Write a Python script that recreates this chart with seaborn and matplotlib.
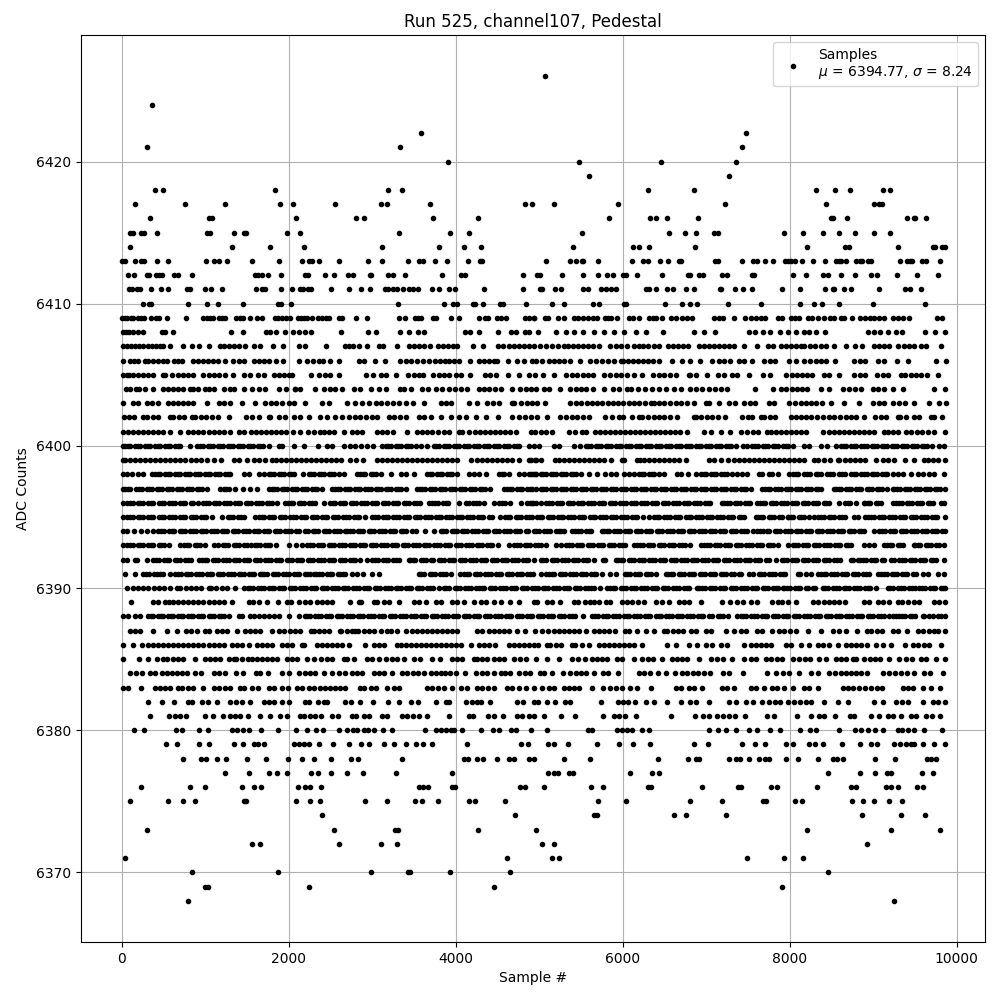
import matplotlib
matplotlib.use('Agg')
import matplotlib.pyplot as plt
import pandas as pd
import seaborn as sns

# sample numbers, one list per ADC count
s6368 = [800, 9254]
s6369 = [992, 1028, 2240, 4460, 7910]
s6370 = [848, 1868, 2984, 3428, 3452, 3932, 4652, 8462]
s6371 = [44, 4616, 5150, 5234, 7490, 7934, 8162]
s6372 = [1556, 1652, 2600, 3104, 3296, 5030, 5174, 8930]
s6373 = [308, 2540, 3272, 3308, 4268, 4958, 8210, 9218, 9806]
s6374 = [2396, 4712, 5654, 5690, 6614, 6758, 7238, 8870, 9338, 9626]
s6375 = [104, 560, 740, 884, 1460, 1492, 2084, 2252, 2372, 2912, 3176, 3512, 3596, 3788, 4160, 4232, 4592,
         5702, 6038, 6806, 7190, 7682, 7718, 8066, 8150, 8750, 8882, 9014, 9194, 9350]
s6376 = [236, 824, 992, 1436, 1580, 1664, 2108, 2200, 2252, 2384, 3560, 3608, 3668, 3956, 3992, 4772, 4832,
         5054, 5618, 5762, 6302, 6334, 6950, 7382, 7418, 7778, 7850, 8330, 8738, 8798, 9158, 9214, 9294, 9530, 9602]
s6377 = [1232, 1520, 1760, 1856, 1976, 2272, 2348, 2504, 2696, 2888, 3284, 3956,
         5102, 5174, 5222, 5354, 5402, 6086, 6350, 6434, 8462, 8846, 9026, 9166, 9214, 9590, 9722]
s6378 = [740, 948, 1008, 1136, 1244, 1496, 1724, 1988, 2156, 2300, 2504, 2744, 2828, 3356, 4100, 4148, 4260, 4328,
         4500, 4640, 4700, 4880, 4940, 5294, 5606, 6422, 6782, 6878, 6914, 7274, 7354, 7406, 7514, 7634, 7700, 7754,
         7958, 8102, 8342, 8514, 8570, 8634, 9022, 9266, 9650, 9694, 9754]
s6379 = [536, 668, 932, 1040, 1340, 1448, 1580, 1628, 1700, 2060, 2120, 2180, 2240, 2360, 2532, 2720, 2868, 2960,
         3140, 3260, 3404, 3524, 3612, 3720, 4136, 4784, 4868, 5102, 5174, 5342, 5690, 5954, 6122, 6326, 6854, 7022,
         7430, 7586, 7706, 7958, 8042, 8234, 8300, 8394, 8626, 8846, 8978, 9050, 9254, 9320, 9390, 9454, 9494, 9594,
         9734, 9854]
s6380 = [152, 272, 656, 728, 932, 1028, 1320, 1380, 1448, 1520, 1664, 1872, 2084, 2216, 2332, 2412, 2600, 2700,
         2768, 2820, 2900, 2948, 3020, 3128, 3236, 3632, 3764, 3820, 3880, 3940, 3980, 4076, 4304, 4448, 4520, 4660,
         4720, 4908, 5094, 5582, 5634, 5926, 5990, 6046, 6110, 6230, 6314, 7034, 7142, 7234, 7358, 7514, 7614, 7766,
         7882, 8126, 8246, 8314, 8594, 8786, 8858, 8942, 9026, 9122, 9294, 9342, 9414, 9494, 9610, 9822]
s6381 = [344, 572, 640, 700, 772, 992, 1088, 1208, 1292, 1360, 1420, 1508, 1660, 1772, 1892, 1980, 2140, 2188, 2252,
         2320, 2388, 2520, 2592, 2760, 2812, 2908, 2960, 3120, 3180, 3360, 3420, 3490, 3560, 3660, 3920, 4160, 4212,
         4388, 4460, 4572, 4740, 4800, 4880, 4940, 5054, 5262, 5434, 5762, 5894, 5954, 6026, 6158, 6578, 6862, 6966,
         7034, 7134, 7200, 7274, 7346, 7466, 7726, 7814, 8090, 8258, 8354, 8414, 8546, 8726, 8774, 8978, 9074, 9174,
         9234, 9334, 9454, 9514, 9634, 9700, 9806]
s6382 = [320, 488, 632, 800, 840, 968, 1028, 1140, 1300, 1370, 1440, 1540, 1700, 1760, 1820, 1920, 2000, 2200, 2240,
         2348, 2420, 2460, 2680, 2750, 2860, 3008, 3192, 3320, 3460, 3548, 3760, 3880, 3920, 4120, 4200, 4260, 4308,
         4412, 4740, 4812, 4942, 4990, 5094, 5194, 5314, 5366, 5746, 5942, 6000, 6060, 6142, 6274, 6374, 6526, 6694,
         6806, 6880, 7034, 7274, 7354, 7474, 7566, 7674, 7754, 7820, 7880, 7974, 8054, 8120, 8190, 8260, 8406, 8582,
         8702, 9014, 9114, 9274, 9340, 9420, 9594, 9714, 9774, 9854]
s6383 = [12, 80, 228, 400, 460, 520, 580, 680, 720, 790, 860, 980, 1108, 1170, 1240, 1300, 1420, 1468, 1560, 1630,
         1760, 1820, 1920, 1990, 2100, 2160, 2240, 2308, 2380, 2440, 2500, 2560, 2620, 2680, 2860, 2908, 2980, 3040,
         3180, 3260, 3320, 3660, 3720, 3790, 3860, 3960, 4060, 4132, 4260, 4320, 4390, 4460, 4620, 4680, 4760, 4840,
         4942, 5034, 5114, 5180, 5294, 5354, 5420, 5480, 5634, 5766, 5854, 5920, 5990, 6086, 6174, 6342, 6642, 6702,
         6794, 6860, 6954, 7186, 7250, 7334, 7534, 7600, 7694, 7794, 7850, 7934, 8042, 8174, 8234, 8334, 8634, 8700,
         8760, 8830, 8900, 8970, 9040, 9110, 9354, 9414, 9480, 9594, 9694, 9806]
s6384 = [100, 172, 240, 340, 400, 480, 540, 600, 660, 720, 780, 880, 948, 1108, 1170, 1240, 1372, 1448, 1612, 1660,
         1748, 1920, 2000, 2120, 2200, 2260, 2320, 2420, 2520, 2600, 2672, 2760, 2820, 2880, 3020, 3080, 3140, 3240,
         3360, 3420, 3490, 3550, 3620, 3700, 3760, 3820, 3872, 3928, 4000, 4108, 4240, 4320, 4380, 4460, 4540, 4588,
         4650, 4760, 4832, 4894, 5014, 5060, 5154, 5282, 5374, 5440, 5500, 5560, 5654, 5766, 5830, 5942, 6194, 6254,
         6326, 6422, 6514, 6622, 6714, 6774, 6840, 6900, 6970, 7040, 7206, 7278, 7442, 7726, 7834, 7914, 7990, 8114,
         8254, 8334, 8474, 8542, 8614, 8680, 8740, 8800, 8860, 8920, 9114, 9194, 9260, 9330, 9400, 9494, 9614, 9680,
         9834]
s6385 = [12, 212, 320, 420, 490, 548, 610, 680, 740, 880, 1000, 1060, 1120, 1180, 1280, 1340, 1372, 1440, 1508, 1560,
         1620, 1680, 1740, 1800, 1860, 1980, 2040, 2100, 2220, 2300, 2388, 2460, 2520, 2660, 2700, 2780, 2940, 3000,
         3080, 3160, 3240, 3300, 3380, 3500, 3570, 3720, 3812, 3960, 4020, 4080, 4220, 4260, 4320, 4380, 4460, 4520,
         4580, 4700, 4770, 4840, 4960, 5094, 5234, 5394, 5460, 5554, 5634, 5690, 5750, 5810, 5934, 5994, 6134, 6234,
         6300, 6360, 6474, 6594, 6650, 6710, 6774, 6914, 7054, 7134, 7200, 7314, 7454, 7534, 7594, 7714, 7782, 7850,
         7910, 8034, 8114, 8180, 8240, 8354, 8434, 8554, 8620, 8680, 8754, 8794, 8894, 8960, 9020, 9080, 9194, 9314,
         9394, 9460, 9574, 9634, 9754, 9854]
s6386 = [12, 140, 248, 320, 380, 440, 500, 560, 620, 680, 740, 800, 860, 920, 980, 1040, 1100, 1160, 1220, 1320, 1380,
         1440, 1520, 1620, 1680, 1740, 1800, 1920, 1980, 2040, 2160, 2188, 2340, 2400, 2460, 2520, 2580, 2640, 2720,
         2920, 3020, 3080, 3140, 3300, 3340, 3400, 3460, 3520, 3580, 3640, 3700, 3760, 3820, 3880, 3940, 4000, 4060,
         4180, 4280, 4340, 4400, 4470, 4640, 4700, 4760, 4820, 4880, 4934, 4990, 5094, 5134, 5200, 5260, 5394, 5434,
         5514, 5594, 5714, 5774, 5834, 5900, 5960, 6020, 6080, 6140, 6234, 6534, 6642, 6794, 6894, 6994, 7074, 7174,
         7254, 7454, 7534, 7600, 7660, 7720, 7780, 7954, 8014, 8134, 8234, 8334, 8400, 8470, 8574, 8674, 8734, 8794,
         8860, 8920, 9034, 9114, 9214, 9382, 9474, 9540, 9610, 9670, 9814]
s6387 = [100, 160, 220, 380, 548, 660, 772, 830, 900, 1000, 1040, 1140, 1200, 1260, 1380, 1472, 1540, 1600, 1660, 1800,
         1880, 1950, 2010, 2070, 2130, 2272, 2300, 2360, 2420, 2480, 2620, 2632, 2700, 2760, 2800, 2830, 2900, 2960,
         3020, 3100, 3180, 3220, 3300, 3400, 3480, 3540, 3600, 3660, 3720, 3780, 3840, 3900, 3960, 4020, 4260, 4320,
         4400, 4460, 4520, 4580, 4640, 4740, 4832, 4954, 5034, 5104, 5174, 5234, 5300, 5360, 5420, 5480, 5560, 5654,
         5714, 5780, 5840, 5910, 6022, 6074, 6174, 6274, 6374, 6494, 6534, 6600, 6660, 6720, 6822, 6874, 6994, 7054,
         7234, 7334, 7414, 7480, 7614, 7674, 7794, 7874, 7930, 8000, 8080, 8214, 8374, 8514, 8594, 8674, 8806, 8930,
         8974, 9040, 9100, 9234, 9294, 9406, 9534, 9600, 9670, 9734, 9782, 9860]
s6388 = [16, 70, 160, 220, 320, 380, 440, 500, 560, 620, 680, 740, 800, 860, 920, 980, 1040, 1100, 1160, 1220, 1280,
         1400, 1440, 1540, 1580, 1640, 1700, 1760, 1820, 1880, 2000, 2120, 2190, 2260, 2320, 2385, 2450, 2510, 2575,
         2640, 2700, 2765, 2830, 2890, 2955, 3020, 3080, 3145, 3210, 3270, 3335, 3400, 3460, 3525, 3590, 3650, 3715,
         3780, 3840, 3905, 3970, 4030, 4095, 4160, 4220, 4285, 4350, 4410, 4475, 4540, 4600, 4665, 4730, 4790, 4855,
         4920, 4980, 5045, 5110, 5170, 5235, 5300, 5360, 5425, 5526, 5634, 5700, 5760, 5825, 5890, 5950, 6015, 6080,
         6140, 6205, 6270, 6330, 6395, 6460, 6520, 6585, 6650, 6710, 6775, 6840, 6900, 6965, 7034, 7074, 7140, 7200,
         7265, 7374, 7414, 7480, 7540, 7605, 7670, 7730, 7795, 7860, 7920, 7985, 8050, 8110, 8175, 8240, 8300, 8365,
         8430, 8490, 8555, 8620, 8680, 8745, 8810, 8870, 8935, 9000, 9060, 9125, 9194, 9234, 9274, 9314, 9375, 9440,
         9500, 9594, 9614, 9674, 9714, 9774, 9814, 9860]
s6389 = [108, 380, 440, 520, 570, 620, 680, 740, 800, 860, 920, 980, 1040, 1100, 1160, 1220, 1320, 1520, 1570, 1640,
         1740, 1872, 1980, 2030, 2120, 2200, 2260, 2340, 2400, 2460, 2520, 2732, 2840, 2870, 3020, 3060, 3140, 3200,
         3320, 3500, 3560, 3650, 3760, 3820, 3960, 4020, 4100, 4220, 4300, 4360, 4460, 4540, 4650, 4760, 4932, 4974,
         5094, 5150, 5254, 5414, 5462, 5554, 5606, 5654, 5714, 5806, 5846, 5994, 6050, 6110, 6180, 6260, 6394, 6474,
         6554, 6674, 6740, 6800, 6934, 7194, 7282, 7374, 7440, 7534, 7614, 7794, 7860, 7910, 7982, 8078, 8274, 8340,
         8410, 8474, 8534, 8594, 8666, 8894, 8954, 9054, 9120, 9194, 9294, 9350, 9420, 9490, 9554, 9726, 9794, 9854]
s6390 = [68, 132, 195, 260, 320, 385, 450, 510, 575, 660, 700, 765, 830, 890, 955, 1040, 1072, 1135, 1200, 1260, 1360,
         1468, 1508, 1570, 1635, 1700, 1760, 1825, 1890, 1950, 2015, 2080, 2140, 2205, 2270, 2330, 2395, 2460, 2520,
         2585, 2650, 2710, 2775, 2840, 2900, 2965, 3030, 3090, 3155, 3220, 3280, 3345, 3410, 3470, 3535, 3600, 3660,
         3725, 3800, 3860, 3925, 3990, 4050, 4115, 4180, 4240, 4280, 4345, 4410, 4470, 4535, 4600, 4660, 4725, 4790,
         4850, 4915, 4980, 5045, 5105, 5170, 5235, 5295, 5360, 5425, 5485, 5550, 5626, 5662, 5730, 5814, 5846, 5910,
         5975, 6035, 6100, 6165, 6225, 6290, 6355, 6415, 6480, 6545, 6605, 6670, 6735, 6795, 6886, 6914, 6980, 7040,
         7105, 7170, 7230, 7295, 7360, 7420, 7485, 7550, 7610, 7675, 7740, 7800, 7865, 7914, 7934, 8000, 8065, 8125,
         8190, 8274, 8306, 8394, 8460, 8520, 8585, 8650, 8710, 8775, 8840, 8900, 8965, 9034, 9174, 9240, 9300, 9365,
         9430, 9502, 9554, 9620, 9680, 9745, 9810, 9860]
s6391 = [40, 160, 260, 325, 390, 460, 500, 580, 640, 705, 770, 830, 895, 960, 1020, 1085, 1150, 1210, 1275, 1340, 1400,
         1465, 1530, 1590, 1660, 1680, 1745, 1810, 1870, 1935, 2000, 2060, 2125, 2190, 2250, 2300, 2330, 2395, 2460,
         2520, 2585, 2650, 2680, 2760, 2820, 2885, 3000, 3080, 3560, 3625, 3690, 3750, 3815, 3880, 3940, 4050, 4100,
         4165, 4230, 4290, 4355, 4420, 4480, 4545, 4610, 4670, 4735, 4800, 4860, 4925, 5020, 4894, 5086, 5114, 5180,
         5245, 5305, 5370, 5435, 5495, 5560, 5625, 5685, 5750, 5854, 5922, 6022, 6085, 6150, 6210, 6275, 6340, 6400,
         6514, 6542, 6605, 6670, 6730, 6795, 6860, 6920, 6985, 7050, 7110, 7175, 7240, 7300, 7394, 7422, 7514, 7566,
         7630, 7695, 7755, 7820, 7885, 7945, 8094, 8126, 8190, 8250, 8334, 8374, 8440, 8500, 8565, 8630, 8690, 8755,
         8820, 8880, 8945, 9054, 9094, 9160, 9220, 9285, 9350, 9410, 9475, 9594, 9654, 9782, 9850]
s6392 = [16, 65, 160, 180, 300, 380, 445, 510, 570, 635, 700, 760, 825, 932, 960, 1025, 1090, 1150, 1215, 1280, 1340,
         1405, 1470, 1530, 1595, 1660, 1720, 1785, 1850, 1910, 1975, 2040, 2100, 2165, 2230, 2290, 2355, 2420, 2480,
         2545, 2610, 2670, 2735, 2800, 2860, 2940, 3000, 3065, 3130, 3190, 3255, 3320, 3440, 3450, 3515, 3580, 3640,
         3700, 3730, 3795, 3860, 3920, 3985, 4050, 4110, 4175, 4240, 4300, 4365, 4430, 4490, 4555, 4620, 4680, 4745,
         4810, 4870, 4935, 5020, 5085, 5150, 5210, 5275, 5340, 5400, 5465, 5530, 5590, 5655, 5766, 5794, 5914, 5942,
         6005, 6070, 6130, 6195, 6260, 6320, 6385, 6450, 6510, 6575, 6640, 6700, 6765, 6830, 6890, 6955, 7020, 7080,
         7145, 7210, 7270, 7335, 7400, 7460, 7525, 7590, 7650, 7715, 7834, 7902, 7965, 8030, 8090, 8155, 8220, 8280,
         8345, 8410, 8470, 8535, 8600, 8734, 8754, 8814, 8846, 8910, 8975, 9035, 9100, 9214, 9246, 9310, 9375, 9435,
         9500, 9565, 9625, 9690, 9755, 9850]
s6393 = [16, 65, 130, 190, 255, 320, 380, 445, 510, 570, 700, 748, 810, 875, 940, 1000, 1108, 1148, 1210, 1275, 1340,
         1400, 1465, 1548, 1592, 1655, 1720, 1780, 1845, 2000, 2088, 2160, 2225, 2290, 2350, 2415, 2480, 2540, 2605,
         2670, 2730, 2795, 2860, 2920, 2985, 3050, 3110, 3175, 3240, 3300, 3365, 3430, 3490, 3555, 3620, 3680, 3745,
         3810, 3870, 3935, 4000, 4060, 4125, 4190, 4250, 4315, 4380, 4440, 4505, 4640, 4700, 4765, 4830, 4890, 4955,
         5020, 5085, 5206, 5266, 5326, 5390, 5455, 5515, 5580, 5645, 5705, 5770, 5835, 5895, 5960, 6025, 6134, 6174,
         6240, 6300, 6365, 6430, 6490, 6555, 6620, 6680, 6745, 6810, 6934, 6974, 7040, 7100, 7165, 7230, 7290, 7355,
         7420, 7480, 7545, 7610, 7670, 7735, 7800, 7860, 7974, 8034, 8100, 8160, 8225, 8290, 8350, 8415, 8480, 8540,
         8605, 8670, 8730, 8894, 8954, 9015, 9134, 9166, 9230, 9295, 9355, 9494, 9502, 9565, 9630, 9690, 9755, 9850]
s6394 = [16, 65, 150, 228, 300, 380, 440, 505, 570, 630, 695, 760, 820, 885, 950, 1010, 1075, 1140, 1200, 1265, 1330,
         1390, 1455, 1520, 1580, 1645, 1710, 1770, 1835, 1900, 1960, 2025, 2090, 2200, 2228, 2292, 2355, 2420, 2480,
         2545, 2610, 2670, 2732, 2768, 2830, 2895, 2960, 3020, 3085, 3150, 3210, 3275, 3340, 3400, 3480, 3528, 3628,
         3740, 3820, 3885, 3950, 4010, 4075, 4140, 4200, 4265, 4330, 4390, 4455, 4520, 4580, 4645, 4710, 4770, 4840,
         4868, 4935, 5000, 5060, 5125, 5198, 5234, 5300, 5394, 5434, 5500, 5560, 5625, 5754, 5774, 5840, 5900, 5965,
         6030, 6090, 6155, 6220, 6280, 6345, 6410, 6470, 6535, 6600, 6660, 6725, 6790, 6850, 6915, 6980, 7040, 7105,
         7170, 7230, 7295, 7360, 7420, 7485, 7566, 7614, 7680, 7734, 7754, 7820, 7880, 7945, 8010, 8070, 8135, 8200,
         8260, 8325, 8390, 8450, 8515, 8580, 8640, 8705, 8770, 8830, 8895, 9014, 9074, 9140, 9200, 9265, 9330, 9390,
         9455, 9520, 9580, 9645, 9710, 9770, 9855]
s6395 = [16, 65, 130, 190, 255, 320, 380, 445, 510, 570, 635, 700, 760, 825, 890, 950, 1015, 1080, 1200, 1268, 1330,
         1395, 1460, 1600, 1640, 1705, 1770, 1830, 1895, 1960, 2020, 2085, 2150, 2210, 2275, 2340, 2400, 2465, 2530,
         2590, 2655, 2720, 2780, 2845, 2920, 3000, 3065, 3130, 3190, 3255, 3320, 3380, 3445, 3510, 3570, 3635, 3700,
         3760, 3825, 3890, 3950, 4015, 4080, 4140, 4205, 4270, 4330, 4395, 4532, 4592, 4655, 4720, 4780, 4845, 4910,
         4970, 5035, 5100, 5160, 5225, 5290, 5350, 5415, 5480, 5540, 5605, 5670, 5730, 5795, 5860, 5920, 5985, 6050,
         6110, 6175, 6240, 6314, 6374, 6440, 6500, 6565, 6630, 6690, 6755, 6820, 6880, 6945, 7010, 7070, 7135, 7200,
         7260, 7325, 7390, 7450, 7594, 7622, 7685, 7750, 7810, 7875, 7974, 7982, 8045, 8110, 8174, 8234, 8294, 8342,
         8405, 8470, 8530, 8595, 8660, 8774, 8814, 8902, 8942, 9005, 9070, 9130, 9195, 9260, 9320, 9385, 9450, 9510,
         9575, 9640, 9700, 9765, 9854]
s6396 = [16, 65, 130, 190, 255, 320, 380, 445, 510, 570, 635, 700, 760, 825, 920, 972, 1040, 1105, 1170, 1230, 1295,
         1360, 1420, 1485, 1550, 1610, 1675, 1740, 1800, 1865, 1960, 1990, 2055, 2120, 2180, 2245, 2310, 2420, 2490,
         2555, 2620, 2680, 2745, 2810, 2870, 2935, 3000, 3060, 3125, 3190, 3250, 3315, 3380, 3440, 3505, 3570, 3680,
         3720, 3785, 3850, 3910, 4040, 4120, 4160, 4212, 4275, 4340, 4460, 4520, 4585, 4650, 4788, 4852, 4915, 5020,
         4894, 4960, 5085, 5150, 5210, 5275, 5340, 5400, 5465, 5530, 5590, 5655, 5720, 5780, 5845, 5910, 5970, 6035,
         6100, 6160, 6225, 6290, 6350, 6415, 6480, 6540, 6605, 6670, 6730, 6795, 6860, 6920, 6985, 7050, 7194, 7214,
         7280, 7340, 7405, 7470, 7530, 7614, 7646, 7710, 7775, 7835, 7900, 7965, 8025, 8090, 8155, 8215, 8280, 8345,
         8405, 8470, 8594, 8662, 8725, 8790, 8886, 8902, 8965, 9030, 9090, 9234, 9274, 9340, 9400, 9465, 9530, 9590,
         9655, 9720, 9814, 9846]
s6397 = [16, 40, 100, 170, 240, 300, 360, 420, 480, 540, 600, 660, 720, 780, 840, 900, 960, 1020, 1180, 1220, 1290,
         1360, 1450, 1540, 1620, 1760, 1800, 1860, 1920, 1980, 2040, 2100, 2160, 2220, 2280, 2340, 2400, 2520, 2560,
         2620, 2680, 2740, 2800, 2860, 2920, 2980, 3040, 3100, 3160, 3220, 3280, 3340, 3400, 3540, 3572, 3630, 3690,
         3750, 3810, 3870, 3930, 3990, 4050, 4110, 4170, 4230, 4290, 4350, 4410, 4580, 4620, 4680, 4740, 4800, 4860,
         4920, 4960, 5020, 5080, 5140, 5200, 5260, 5320, 5380, 5440, 5500, 5560, 5620, 5680, 5740, 5800, 5860, 5920,
         5980, 6040, 6100, 6160, 6220, 6280, 6340, 6400, 6460, 6520, 6580, 6640, 6700, 6760, 6820, 6880, 6940, 7000,
         7060, 7120, 7180, 7240, 7300, 7360, 7420, 7480, 7540, 7674, 7706, 7770, 7830, 7890, 7950, 8010, 8070, 8130,
         8190, 8250, 8310, 8370, 8530, 8554, 8620, 8680, 8740, 8800, 8860, 8920, 8980, 9040, 9100, 9160, 9234, 9254,
         9320, 9380, 9440, 9500, 9560, 9620, 9680, 9740, 9800, 9860]
s6398 = [16, 60, 120, 190, 250, 360, 400, 460, 520, 580, 640, 700, 760, 820, 880, 940, 1000, 1060, 1120, 1180, 1240,
         1300, 1460, 1520, 1640, 1700, 1760, 1820, 1880, 1940, 2000, 2060, 2172, 2240, 2300, 2360, 2420, 2480, 2540,
         2600, 2660, 2820, 2860, 2920, 2980, 3040, 3100, 3220, 3340, 3400, 3500, 3660, 3720, 3780, 3840, 3900, 3960,
         4020, 4160, 4220, 4280, 4360, 4520, 4580, 4640, 4760, 4820, 4880, 4950, 4900, 4960, 5020, 5080, 5140, 5200,
         5260, 5320, 5380, 5440, 5500, 5594, 5694, 5794, 5860, 5920, 6014, 6074, 6140, 6200, 6260, 6320, 6380, 6440,
         6500, 6654, 6694, 6780, 6874, 6934, 7000, 7060, 7120, 7180, 7250, 7314, 7374, 7424, 7490, 7634, 7674, 7754,
         7794, 7860, 7994, 8034, 8100, 8170, 8240, 8310, 8380, 8450, 8520, 8590, 8660, 8730, 8800, 8860, 8920, 8980,
         9050, 9110, 9170, 9240, 9294, 9354, 9454, 9534, 9600, 9670, 9730, 9850]
s6399 = [16, 40, 100, 160, 220, 280, 340, 400, 460, 520, 580, 640, 700, 760, 832, 890, 950, 1020, 1100, 1190, 1348,
         1410, 1500, 1590, 1648, 1720, 1800, 1848, 1910, 1970, 2030, 2090, 2150, 2210, 2270, 2330, 2390, 2450, 2510,
         2570, 2630, 2740, 2812, 2888, 3060, 3120, 3180, 3240, 3300, 3360, 3420, 3480, 3540, 3600, 3660, 3720, 3780,
         3840, 3900, 3960, 4020, 4180, 4250, 4310, 4370, 4430, 4500, 4560, 4620, 4680, 4760, 4880, 4950, 4900, 4960,
         5020, 5194, 5234, 5300, 5360, 5420, 5480, 5540, 5600, 5660, 5720, 5780, 5860, 5994, 6014, 6174, 6206, 6254,
         6320, 6380, 6440, 6500, 6560, 6620, 6680, 6760, 7034, 7094, 7174, 7262, 7330, 7390, 7450, 7510, 7570, 7630,
         7690, 7750, 7810, 7870, 7930, 7990, 8050, 8110, 8170, 8294, 8342, 8410, 8480, 8574, 8594, 8660, 8720, 8780,
         8840, 8900, 9034, 9114, 9180, 9250, 9382, 9494, 9614, 9654, 9720, 9780, 9860]
s6400 = [16, 40, 100, 160, 220, 280, 340, 400, 460, 520, 580, 640, 700, 820, 908, 970, 1030, 1090, 1150, 1210, 1270,
         1330, 1390, 1450, 1510, 1570, 1630, 1690, 1760, 1880, 1924, 2060, 2180, 2348, 2460, 2520, 2660, 2730, 2800,
         2870, 2940, 3010, 3120, 3160, 3220, 3280, 3340, 3400, 3460, 3520, 3590, 3660, 3740, 3800, 3860, 3920, 3980,
         4040, 4100, 4160, 4220, 4280, 4340, 4400, 4460, 4520, 4580, 4640, 4700, 4760, 4880, 4934, 5000, 5174, 5234,
         5414, 5494, 5560, 5620, 5680, 5740, 5800, 5860, 5920, 5980, 6040, 6100, 6160, 6220, 6280, 6340, 6400, 6460,
         6520, 6580, 6640, 6700, 6760, 6820, 6880, 6940, 7000, 7060, 7120, 7180, 7240, 7300, 7360, 7440, 7494, 7554,
         7620, 7680, 7740, 7800, 7860, 7920, 7980, 8040, 8174, 8234, 8374, 8446, 8554, 8620, 8680, 8740, 8800, 8860,
         8920, 8980, 9040, 9100, 9160, 9220, 9280, 9340, 9400, 9460, 9520, 9580, 9640, 9700, 9794, 9850]
s6401 = [12, 70, 130, 190, 250, 310, 370, 430, 500, 580, 704, 800, 860, 920, 980, 1040, 1100, 1160, 1230, 1300, 1400,
         1468, 1548, 1610, 1670, 1730, 1790, 1850, 1910, 1970, 2050, 2140, 2228, 2300, 2380, 2420, 2480, 2540, 2660,
         2760, 2820, 2880, 3060, 3120, 3180, 3250, 3420, 3540, 3600, 3660, 3720, 3790, 3860, 3920, 4040, 4080, 4160,
         4230, 4290, 4350, 4410, 4470, 4530, 4590, 4650, 4720, 4900, 4954, 5020, 5080, 5150, 5354, 5434, 5514, 5566,
         5674, 5726, 5790, 5850, 5910, 5970, 6030, 6090, 6150, 6210, 6270, 6330, 6390, 6450, 6510, 6570, 6630, 6690,
         6770, 6974, 7054, 7174, 7286, 7420, 7494, 7560, 7620, 7734, 7782, 7840, 7900, 7960, 8020, 8080, 8140, 8200,
         8394, 8466, 8530, 8590, 8650, 8710, 8770, 8830, 8890, 8950, 9010, 9134, 9174, 9234, 9294, 9394, 9454, 9520,
         9590, 9660, 9730, 9854]
s6402 = [28, 90, 150, 260, 300, 370, 440, 580, 620, 690, 750, 840, 880, 950, 1010, 1080, 1150, 1290, 1490, 1560, 1640,
         1760, 1780, 1880, 1960, 2060, 2130, 2240, 2380, 2460, 2560, 2640, 2720, 2790, 2860, 2930, 3000, 3060, 3200,
         3260, 3330, 3400, 3560, 3620, 3700, 3820, 3940, 4040, 4120, 4248, 4360, 4508, 4680, 4760, 4830, 4900, 4974,
         5094, 5254, 5320, 5390, 5450, 5520, 5600, 5794, 5874, 5954, 6006, 6114, 6194, 6234, 6300, 6370, 6440, 6500,
         6570, 6650, 6854, 6874, 6940, 7010, 7070, 7140, 7230, 7434, 7502, 7554, 7654, 7694, 7760, 7820, 8014, 8074,
         8140, 8200, 8260, 8330, 8400, 8470, 8530, 8600, 8670, 8740, 8800, 8894, 9022, 9090, 9150, 9294, 9326, 9390,
         9494, 9554, 9694, 9734, 9822]
s6403 = [12, 140, 200, 300, 360, 440, 560, 620, 680, 740, 800, 850, 1020, 1160, 1230, 1300, 1440, 1600, 1720, 1790,
         1850, 1920, 2000, 2060, 2200, 2400, 2480, 2696, 2800, 2880, 2960, 3040, 3110, 3180, 3250, 3320, 3400, 3490,
         3620, 3820, 3880, 3940, 4160, 4260, 4380, 4450, 4520, 4680, 4700, 4780, 4850, 4920, 4974, 5074, 5374, 5440,
         5500, 5570, 5630, 5690, 5750, 5820, 5880, 5940, 6000, 6070, 6130, 6200, 6270, 6334, 6374, 6440, 6500, 6570,
         6640, 6700, 6774, 6850, 6994, 7034, 7154, 7274, 7342, 7454, 7520, 7580, 7754, 7814, 7994, 8060, 8130, 8190,
         8250, 8310, 8390, 8494, 8654, 8834, 8994, 9074, 9134, 9234, 9310, 9380, 9494, 9674, 9794, 9866]
s6404 = [52, 100, 170, 210, 280, 372, 500, 560, 620, 680, 740, 820, 860, 920, 1000, 1040, 1100, 1220, 1300, 1350,
         1460, 1556, 1640, 1720, 1880, 1964, 2070, 2080, 2140, 2310, 2420, 2490, 2560, 2640, 2780, 2860, 2980, 3080,
         3160, 3332, 3380, 3460, 3600, 3668, 3760, 3840, 3920, 3990, 4060, 4130, 4280, 4340, 4400, 4470, 4540, 4680,
         4772, 4840, 4900, 4960, 5060, 5114, 5246, 5374, 5440, 5500, 5560, 5640, 5782, 5886, 5950, 6054, 6094, 6182,
         6266, 6354, 6434, 6514, 6614, 6700, 6806, 6882, 6950, 7030, 7100, 7174, 7254, 7582, 7802, 7894, 7960, 8030,
         8090, 8150, 8210, 8374, 8474, 8634, 8714, 8780, 8860, 8994, 9054, 9134, 9234, 9354, 9734, 9854]
s6405 = [20, 60, 92, 140, 190, 250, 310, 370, 492, 524, 608, 670, 730, 800, 860, 980, 1040, 1100, 1160, 1240, 1328,
         1460, 1532, 1628, 1700, 1820, 1880, 1940, 2000, 2040, 2264, 2360, 2430, 2500, 2600, 2928, 3008, 3104, 3170,
         3284, 3428, 3500, 3560, 3608, 3728, 3800, 3860, 3920, 4004, 4060, 4172, 4348, 4410, 4480, 4628, 4760, 4880,
         4950, 5050, 5174, 5318, 5390, 5450, 5520, 5590, 5650, 5782, 5854, 5920, 5980, 6050, 6134, 6230, 6362, 6434,
         6500, 6570, 6640, 6790, 6806, 6880, 7014, 7142, 7214, 7314, 7366, 7514, 7682, 7766, 7958, 8030, 8090, 8150,
         8210, 8270, 8414, 8474, 8594, 8774, 8840, 8900, 9050, 9114, 9180, 9334, 9382, 9450, 9510, 9570, 9650, 9774]
s6406 = [12, 100, 150, 200, 280, 320, 370, 430, 490, 548, 632, 680, 728, 860, 910, 970, 1030, 1090, 1150, 1240, 1328,
         1400, 1460, 1580, 1640, 1700, 1760, 1850, 1928, 2120, 2220, 2290, 2360, 2408, 2492, 2600, 2840, 2900, 3032,
         3152, 3332, 3400, 3470, 3540, 3610, 3680, 3750, 3810, 3870, 3920, 3980, 4040, 4172, 4280, 4340, 4400, 4460,
         4490, 4628, 4740, 4820, 4912, 4960, 5030, 5114, 5180, 5240, 5300, 5370, 5494, 5606, 5680, 5750, 5820, 5900,
         5980, 6000, 6060, 6120, 6180, 6240, 6300, 6360, 6440, 6594, 6706, 6806, 6926, 7074, 7154, 7214, 7280, 7394,
         7454, 7554, 7694, 7760, 7830, 7994, 8078, 8174, 8240, 8310, 8370, 8440, 8542, 8774, 8840, 8900, 9054, 9134,
         9282, 9414, 9758, 9866]
s6407 = [12, 60, 110, 160, 210, 260, 310, 360, 410, 460, 492, 584, 740, 848, 932, 1040, 1172, 1230, 1290, 1350, 1400,
         1472, 1580, 1652, 1808, 1928, 2120, 2192, 2444, 2672, 2720, 2768, 2840, 2936, 3080, 3128, 3296, 3440, 3500,
         3560, 3620, 3692, 3788, 3850, 3910, 3970, 4016, 4208, 4328, 4508, 4570, 4640, 4700, 4760, 4820, 4880, 4940,
         5010, 5078, 5150, 5222, 5294, 5350, 5410, 5470, 5530, 5590, 5640, 5714, 5846, 5918, 5980, 6050, 6134, 6190,
         6240, 6300, 6370, 6434, 6542, 6600, 6660, 6720, 6780, 6914, 6974, 7030, 7090, 7150, 7210, 7270, 7330, 7450,
         7610, 7742, 7802, 7898, 7960, 8020, 8080, 8134, 8174, 8240, 8300, 8370, 8434, 8530, 8678, 8786, 8870, 9014,
         9074, 9130, 9190, 9294, 9374, 9434, 9494, 9574, 9638, 9818]
s6408 = [12, 52, 92, 132, 200, 252, 480, 520, 612, 1304, 1448, 1724, 1772, 1844, 1952, 2048, 2120, 2200, 2272, 2624,
         2948, 3044, 3332, 3440, 3548, 3620, 4112, 4172, 4280, 4508, 4664, 4724, 4832, 4880, 4982, 5198, 5318, 5414,
         5522, 5654, 5774, 5894, 6014, 6154, 6278, 6482, 6854, 6974, 7106, 7514, 7586, 7682, 7766, 7886, 7982, 8078,
         8174, 8234, 8318, 8426, 8942, 9014, 9086, 9182, 9278, 9350, 9626, 9746, 9854]
s6409 = [4, 36, 68, 112, 140, 200, 228, 272, 356, 416, 452, 540, 776, 980, 1016, 1052, 1088, 1160, 1196, 1232, 1364,
         1412, 1448, 1532, 1616, 1676, 1832, 1868, 1916, 1964, 2012, 2108, 2144, 2180, 2216, 2276, 2348, 2396, 2444,
         2480, 2600, 2636, 2804, 2936, 3320, 3392, 3512, 3548, 3584, 3728, 3764, 3944, 4040, 4280, 4352, 4388, 4496,
         4544, 4604, 4832, 4880, 4940, 4934, 5066, 5102, 5222, 5294, 5414, 5462, 5522, 5582, 5642, 5690, 5786, 5822,
         5858, 5930, 6074, 6122, 6194, 6314, 6362, 6398, 6470, 6578, 6638, 6710, 6770, 6830, 7094, 7154, 7202, 7334,
         7466, 7538, 7598, 7658, 7706, 7862, 7910, 8018, 8066, 8114, 8222, 8270, 8342, 8414, 8486, 8534, 8618, 8654,
         8750, 8846, 8906, 8966, 9014, 9074, 9134, 9234, 9302, 9362, 9434, 9770, 9830]
s6410 = [260, 332, 356, 800, 1016, 1148, 1448, 1868, 1904, 2024, 3308, 3860, 3968, 4016, 4208, 4232, 4328, 4532, 4568,
         4844, 5150, 5294, 5642, 5714, 6014, 6038, 6506, 6710, 6806, 6890, 7262, 7658, 8126, 8294, 8390, 8594, 9002,
         9626]
s6411 = [92, 128, 188, 224, 356, 476, 560, 788, 824, 992, 1064, 1196, 1604, 1676, 1712, 1904, 2036, 2132, 2168, 2228,
         2264, 2504, 2720, 2864, 2972, 3152, 3188, 3248, 3296, 3368, 3440, 3488, 3548, 3716, 3800, 3920, 3992, 4340,
         4808, 5012, 5030, 5186, 5258, 5522, 5582, 5738, 5798, 5858, 5918, 6278, 6314, 6398, 6530, 6602, 6758, 6854,
         7166, 7178, 7346, 7442, 7550, 7910, 8126, 8426, 8522, 8534, 8654, 8738, 9074, 9386, 9446, 9578]
s6412 = [80, 152, 308, 332, 416, 452, 488, 632, 680, 848, 1592, 1628, 1676, 1748, 1904, 2192, 2228, 2432, 2540, 2708,
         2768, 2972, 2984, 3188, 3248, 3392, 3836, 4064, 4112, 4808, 4976, 5012, 5270, 5522, 5702, 5810, 5882, 6002,
         6038, 6170, 6470, 6782, 6806, 6914, 6962, 7190, 7250, 7550, 7574, 8042, 8198, 8402, 8462, 8618, 8786, 8978,
         9050, 9290, 9530, 9782]
s6413 = [4, 44, 164, 236, 272, 428, 560, 1004, 1100, 1160, 1256, 1556, 1880, 2156, 2240, 2276, 2360, 2600, 2948, 3116,
         3428, 3560, 3612, 3752, 3896, 4148, 4292, 4316, 5078, 5366, 5438, 5510, 5522, 5702, 6110, 6242, 6302, 6446,
         6542, 6674, 6698, 7106, 7142, 7430, 7562, 7610, 7706, 7802, 7946, 7982, 8018, 8066, 8150, 8282, 8426, 8558,
         8594, 8618, 8678, 8798, 8846, 8870, 8942, 8978, 9326, 9410, 9446, 9470, 9590, 9638, 9806]
s6414 = [104, 1316, 1772, 2180, 3116, 3800, 4100, 4304, 5402, 6122, 6194, 6314, 6866, 8210, 8666, 8714, 9302, 9722,
         9746, 9830, 9860]
s6415 = [104, 140, 236, 264, 428, 1016, 1056, 1340, 1460, 1488, 1976, 2132, 3320, 3932, 4160, 5510, 6554, 6746, 6878,
         7094, 7142, 7934, 8162, 8402, 8594, 8786, 9014, 9206]
s6416 = [344, 1040, 1076, 2084, 2804, 2900, 3728, 4268, 5834, 6326, 6398, 6530, 6902, 8498, 8522, 8690, 9410, 9494,
         9506, 9638]
s6417 = [164, 764, 1232, 1892, 2048, 2552, 3104, 3176, 3692, 4832, 4916, 5174, 5942, 7226, 8438, 9014, 9074, 9110]
s6418 = [404, 500, 1832, 3188, 3356, 6302, 6854, 8318, 8546, 8726, 9122, 9206]
s6419 = [5594, 7274]
s6420 = [3908, 5474, 6458, 7358]
s6421 = [308, 3332, 7430]
s6422 = [3584, 7478]
s6424 = [368]
s6426 = [5066]

# more samples inside the rows that read as solid bars in the picture
f6390 = [1540, 1665, 1795, 1920, 2045, 2175, 2300, 2425, 2555, 2680, 2805, 2935, 3060, 3185, 3315, 3440, 3565, 3695,
         3890, 4020, 4150, 4310, 4440, 4565, 4695, 4820, 4950, 5075, 5200, 5330, 5455, 5590, 5880, 6005, 6130, 6260,
         6385, 6510, 6640, 6765, 6950, 7075, 7200, 7325, 7455, 7580, 7705, 7835, 7965, 8095, 8225, 8425, 8555, 8680,
         8810, 8935, 9205, 9335, 9465, 9585, 9715, 9840]
f6391 = [290, 425, 670, 800, 925, 1055, 1180, 1305, 1435, 1560, 1710, 1840, 1965, 2095, 2220, 2360, 2490, 2615, 3590,
         3720, 3850, 4130, 4260, 4385, 4515, 4640, 4765, 5150, 5275, 5400, 5530, 5655, 6055, 6180, 6305, 6575, 6700,
         6825, 6950, 7080, 7205, 7330, 7660, 7790, 7915, 8405, 8530, 8660, 8785, 8910, 9130, 9255, 9380, 9510]
f6392 = [410, 540, 665, 795, 995, 1120, 1245, 1375, 1500, 1625, 1755, 1880, 2005, 2135, 2260, 2385, 2515, 2640, 2770,
         3030, 3160, 3285, 3485, 3610, 3825, 3950, 4080, 4205, 4335, 4460, 4585, 4715, 4840, 5050, 5180, 5305, 5430,
         5560, 5975, 6100, 6230, 6355, 6480, 6610, 6735, 6860, 6990, 7115, 7240, 7370, 7495, 7620, 7750, 7930, 8060,
         8185, 8315, 8440, 8565, 8880, 9005, 9130, 9340, 9470, 9595, 9720]
f6393 = [95, 220, 350, 475, 780, 905, 1240, 1370, 1495, 1625, 1750, 2255, 2385, 2510, 2635, 2765, 2890, 3015, 3145,
         3270, 3395, 3525, 3650, 3775, 3905, 4030, 4155, 4285, 4410, 4730, 4860, 4985, 5360, 5485, 5610, 5740, 5865,
         5990, 6205, 6330, 6460, 6585, 6710, 7005, 7135, 7260, 7385, 7515, 7640, 7765, 8065, 8195, 8320, 8445, 8575,
         8700, 9200, 9325, 9535, 9660, 9790]
f6394 = [470, 600, 725, 850, 980, 1105, 1230, 1360, 1485, 1615, 1740, 1865, 1995, 2120, 2320, 2450, 2575, 2700, 2860,
         2990, 3115, 3245, 3370, 3850, 3980, 4105, 4230, 4360, 4485, 4615, 4740, 4965, 5095, 5265, 5470, 5595, 5810,
         5935, 6060, 6185, 6315, 6440, 6565, 6695, 6820, 6945, 7075, 7200, 7325, 7455, 7650, 7850, 7975, 8100, 8230,
         8355, 8480, 8610, 8735, 8860, 9110, 9235, 9360, 9490, 9615, 9740, 9830]
f6395 = [100, 225, 350, 480, 605, 730, 860, 985, 1300, 1430, 1675, 1800, 1925, 2055, 2180, 2305, 2435, 2560, 2690,
         2815, 3035, 3160, 3290, 3415, 3540, 3670, 3795, 3920, 4050, 4175, 4300, 4430, 4625, 4750, 4880, 5005, 5130,
         5260, 5385, 5510, 5640, 5765, 5890, 6020, 6145, 6410, 6535, 6660, 6790, 6915, 7040, 7170, 7295, 7420, 7655,
         7780, 7905, 8015, 8140, 8375, 8500, 8625, 8975, 9100, 9225, 9355, 9480, 9605, 9735]
f6396 = [100, 225, 350, 480, 605, 730, 860, 1005, 1135, 1260, 1390, 1515, 1640, 1770, 2025, 2150, 2275, 2525, 2650,
         2775, 2905, 3030, 3155, 3285, 3410, 3535, 3755, 3880, 4245, 4555, 4930, 5115, 5245, 5370, 5495, 5625, 5750,
         5875, 6005, 6130, 6255, 6385, 6510, 6635, 6765, 6890, 7020, 7250, 7375, 7500, 7680, 7805, 7930, 8060, 8185,
         8310, 8440, 8695, 8935, 9060, 9305, 9430, 9560, 9685]
f6397 = [70, 205, 330, 450, 570, 690, 810, 930, 1255, 1830, 1950, 2070, 2190, 2310, 2590, 2710, 2830, 2950, 3070,
         3190, 3310, 3600, 3720, 3840, 3960, 4080, 4200, 4320, 4650, 4770, 4890, 5050, 5170, 5290, 5410, 5530, 5650,
         5770, 5890, 6010, 6130, 6250, 6370, 6490, 6610, 6730, 6850, 6970, 7090, 7210, 7330, 7450, 7740, 7860, 7980,
         8100, 8220, 8340, 8590, 8710, 8830, 8950, 9070, 9290, 9410, 9530, 9650, 9770]
f6398 = [430, 550, 670, 790, 910, 1030, 1150, 1270, 1790, 1910, 2030, 2270, 2390, 2510, 2890, 3010, 3690, 3810, 3930,
         4550, 4930, 5050, 5170, 5290, 5410, 6230, 6350, 6970, 7090, 7210, 8070, 8205, 8345, 8485, 8625, 8765, 8890,
         9010, 9140]
f6400 = [70, 190, 310, 430, 550, 670, 940, 1060, 1180, 1300, 1420, 1540, 1660, 3190, 3310, 3430, 3770, 3890, 4010,
         4130, 4250, 4370, 4490, 4610, 4730, 5590, 5710, 5830, 5950, 6070, 6190, 6310, 6430, 6550, 6670, 6790, 6910,
         7030, 7150, 7270, 7590, 7710, 7830, 7950, 8650, 8770, 8890, 9010, 9130, 9250, 9370, 9490, 9610]
f6388 = [350, 470, 590, 710, 830, 950, 1070, 1190, 2225, 2350, 2480, 2605, 2735, 2860, 2985, 3115, 3240, 3365, 3495,
         3620, 3745, 3875, 4000, 4125, 4255, 4380, 4505, 4635, 4760, 4885, 5015, 5140, 5265, 5395, 5670, 5795, 5920,
         6050, 6175, 6300, 6430, 6555, 6680, 6810, 6935, 7170, 7445, 7575, 7700, 7825, 7955, 8080, 8205, 8335, 8460,
         8585, 8715, 8840, 8965, 9095, 9345, 9470]

adc_levels = [6368, 6369, 6370, 6371, 6372, 6373, 6374, 6375, 6376, 6377, 6378, 6379, 6380, 6381, 6382, 6383, 6384,
              6385, 6386, 6387, 6388, 6389, 6390, 6391, 6392, 6393, 6394, 6395, 6396, 6397, 6398, 6399, 6400, 6401,
              6402, 6403, 6404, 6405, 6406, 6407, 6408, 6409, 6410, 6411, 6412, 6413, 6414, 6415, 6416, 6417, 6418,
              6419, 6420, 6421, 6422, 6424, 6426,
              6388, 6390, 6391, 6392, 6393, 6394, 6395, 6396, 6397, 6398, 6400]
sample_rows = [s6368, s6369, s6370, s6371, s6372, s6373, s6374, s6375, s6376, s6377, s6378, s6379, s6380, s6381,
               s6382, s6383, s6384, s6385, s6386, s6387, s6388, s6389, s6390, s6391, s6392, s6393, s6394, s6395,
               s6396, s6397, s6398, s6399, s6400, s6401, s6402, s6403, s6404, s6405, s6406, s6407, s6408, s6409,
               s6410, s6411, s6412, s6413, s6414, s6415, s6416, s6417, s6418, s6419, s6420, s6421, s6422, s6424,
               s6426,
               f6388, f6390, f6391, f6392, f6393, f6394, f6395, f6396, f6397, f6398, f6400]

sample_col = []
adc_col = []
for level, row in zip(adc_levels, sample_rows):
    sample_col += row
    adc_col += [level] * len(row)
df = pd.DataFrame({'sample': sample_col, 'adc': adc_col})

fig, ax = plt.subplots(figsize=(10, 10), dpi=100)
sns.scatterplot(data=df, x='sample', y='adc', color='k', marker='.', s=36, edgecolor='k', linewidth=1,
                zorder=2, ax=ax, label='Samples\n$\\mu$ = 6394.77, $\\sigma$ = 8.24')
ax.set_xlim(-487, 10339)
ax.set_ylim(6365.1, 6428.9)
ax.set_xlabel('Sample #')
ax.set_ylabel('ADC Counts')
ax.set_title('Run 525, channel107, Pedestal')
ax.grid(True)
ax.legend(loc='upper right')
fig.subplots_adjust(left=0.081, right=0.985, top=0.965, bottom=0.058)
plt.savefig('out.png', dpi=100)
